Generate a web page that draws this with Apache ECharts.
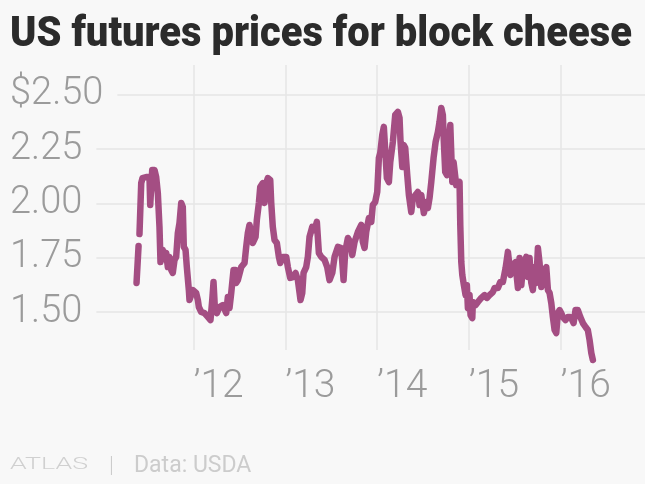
<!DOCTYPE html>
<html>
<head>
<meta charset="utf-8">
<script src="https://cdn.jsdelivr.net/npm/echarts@6/dist/echarts.min.js"></script>
<style>
  html, body { margin: 0; padding: 0; background: #f8f8f8; }
  #chart { width: 645px; height: 484px; }
</style>
</head>
<body>
<div id="chart"></div>
<script>
// ---- data ----
const titleText = 'US futures prices for block cheese';
const sourceText = 'Data: USDA';
const brandText = 'ATLAS';

// time as decimal year
const yearFrac = [
  2011.379, 2011.401, 2011.406, 2011.411, 2011.430, 2011.444, 2011.484, 2011.520, 2011.528, 2011.550,
  2011.575, 2011.593, 2011.611, 2011.629, 2011.640, 2011.665, 2011.684, 2011.702, 2011.720, 2011.738,
  2011.757, 2011.774, 2011.793, 2011.811, 2011.829, 2011.847, 2011.866, 2011.883, 2011.894, 2011.913,
  2011.927, 2011.949, 2011.956, 2011.992, 2012.029, 2012.047, 2012.058, 2012.084, 2012.120, 2012.156,
  2012.185, 2012.204, 2012.218, 2012.232, 2012.254, 2012.283, 2012.319, 2012.356, 2012.374, 2012.392,
  2012.411, 2012.436, 2012.458, 2012.465, 2012.483, 2012.520, 2012.556, 2012.574, 2012.592, 2012.610,
  2012.629, 2012.646, 2012.676, 2012.690, 2012.712, 2012.727, 2012.755, 2012.774, 2012.792, 2012.810,
  2012.836, 2012.847, 2012.864, 2012.883, 2012.908, 2012.930, 2012.945, 2012.973, 2013.010, 2013.028,
  2013.054, 2013.082, 2013.112, 2013.137, 2013.166, 2013.185, 2013.199, 2013.228, 2013.246, 2013.264,
  2013.294, 2013.319, 2013.344, 2013.366, 2013.392, 2013.428, 2013.457, 2013.482, 2013.512, 2013.537,
  2013.573, 2013.610, 2013.635, 2013.653, 2013.682, 2013.708, 2013.730, 2013.755, 2013.791, 2013.828,
  2013.845, 2013.864, 2013.882, 2013.911, 2013.937, 2013.954, 2013.980, 2014.002, 2014.020, 2014.035,
  2014.057, 2014.074, 2014.093, 2014.107, 2014.129, 2014.144, 2014.172, 2014.198, 2014.227, 2014.245,
  2014.256, 2014.275, 2014.289, 2014.307, 2014.329, 2014.347, 2014.373, 2014.390, 2014.420, 2014.445,
  2014.463, 2014.482, 2014.510, 2014.536, 2014.554, 2014.572, 2014.591, 2014.616, 2014.638, 2014.663,
  2014.681, 2014.700, 2014.717, 2014.728, 2014.743, 2014.761, 2014.779, 2014.798, 2014.809, 2014.820,
  2014.834, 2014.852, 2014.863, 2014.881, 2014.899, 2014.907, 2014.918, 2014.929, 2014.946, 2014.965,
  2014.979, 2014.990, 2015.008, 2015.019, 2015.038, 2015.044, 2015.074, 2015.099, 2015.136, 2015.172,
  2015.197, 2015.226, 2015.262, 2015.281, 2015.317, 2015.343, 2015.371, 2015.401, 2015.426, 2015.444,
  2015.455, 2015.480, 2015.510, 2015.524, 2015.535, 2015.553, 2015.572, 2015.589, 2015.608, 2015.626,
  2015.644, 2015.662, 2015.681, 2015.698, 2015.717, 2015.735, 2015.753, 2015.771, 2015.790, 2015.807,
  2015.826, 2015.844, 2015.862, 2015.880, 2015.899, 2015.916, 2015.935, 2015.953, 2015.970, 2015.989,
  2016.007, 2016.025, 2016.054, 2016.080, 2016.106, 2016.127, 2016.142, 2016.163, 2016.188, 2016.215,
  2016.243, 2016.272, 2016.297, 2016.316, 2016.335, 2016.352
];

// price, US$ per pound (null = gap in the line)
const price = [
  1.634, 1.804, null, 1.859, 2.094, 2.117, 2.122, 2.122, 1.993, 2.154,
  2.154, 2.122, 2.048, 1.892, 1.730, 1.786, 1.754, 1.772, 1.707, 1.754,
  1.694, 1.680, 1.740, 1.754, 1.864, 1.910, 2.002, 1.984, 1.800, 1.786,
  1.707, 1.601, 1.555, 1.601, 1.588, 1.555, 1.523, 1.500, 1.495, 1.477,
  1.463, 1.555, 1.638, 1.523, 1.495, 1.523, 1.532, 1.495, 1.569, 1.518,
  1.588, 1.694, 1.694, 1.634, 1.647, 1.707, 1.726, 1.800, 1.864, 1.901,
  1.864, 1.818, 1.846, 1.924, 2.002, 2.076, 2.094, 2.002, 2.094, 2.117,
  2.108, 2.002, 1.892, 1.832, 1.818, 1.754, 1.726, 1.754, 1.754, 1.707,
  1.657, 1.661, 1.680, 1.647, 1.555, 1.588, 1.680, 1.707, 1.754, 1.846,
  1.892, 1.878, 1.915, 1.772, 1.754, 1.740, 1.707, 1.647, 1.680, 1.754,
  1.800, 1.795, 1.647, 1.777, 1.841, 1.823, 1.763, 1.823, 1.869, 1.901,
  1.823, 1.795, 1.869, 1.933, 1.915, 1.993, 2.007, 2.053, 2.210, 2.233,
  2.316, 2.353, 2.348, 2.117, 2.099, 2.191, 2.283, 2.408, 2.422, 2.394,
  2.283, 2.168, 2.270, 2.256, 2.131, 2.039, 1.961, 2.025, 2.039, 2.053,
  1.993, 2.039, 1.956, 2.007, 1.979, 2.025, 2.099, 2.210, 2.283, 2.329,
  2.376, 2.440, 2.408, 2.283, 2.145, 2.131, 2.270, 2.362, 2.362, 2.099,
  2.191, 2.191, 2.085, 2.094, 2.099, 1.901, 1.730, 1.671, 1.624, 1.578,
  1.624, 1.518, 1.578, 1.486, 1.472, 1.546, 1.532, 1.546, 1.565, 1.578,
  1.565, 1.578, 1.592, 1.611, 1.611, 1.638, 1.638, 1.703, 1.777, 1.777,
  1.671, 1.717, 1.730, 1.657, 1.611, 1.749, 1.624, 1.703, 1.730, 1.754,
  1.661, 1.749, 1.634, 1.601, 1.707, 1.634, 1.795, 1.726, 1.615, 1.615,
  1.694, 1.707, 1.601, 1.588, 1.541, 1.477, 1.417, 1.403, 1.495, 1.509,
  1.495, 1.477, 1.463, 1.477, 1.477, 1.463, 1.449, 1.509, 1.509, 1.477,
  1.449, 1.431, 1.417, 1.371, 1.311, 1.279
];

// tick labels
const xTicks = [2012, 2013, 2014, 2015, 2016];
const xTickLabels = ['’12', '’13', '’14', '’15', '’16'];
const yTicks = [1.5, 1.75, 2.0, 2.25, 2.5];
const yTickLabels = ['1.50', '1.75', '2.00', '2.25', '$2.50'];

// ---- chart ----
const seriesData = yearFrac.map((t, i) => [t, price[i] === null ? '-' : price[i]]);

const BG = '#f8f8f8';
const GRID = '#e6e6e6';
const LABEL = '#9b9b9b';
const LINE = '#a44e83';

const chart = echarts.init(document.getElementById('chart'), null, { renderer: 'canvas' });

function fitScale(text, font, targetW) {
  const c = document.createElement('canvas').getContext('2d');
  c.font = font;
  return targetW / c.measureText(text).width;
}
const titleFont = '900 42px Roboto';
const titleScale = fitScale(titleText, titleFont, 622);
const brandFont = '300 17px Roboto';
const brandScale = fitScale(brandText, brandFont, 78);

const yLabelFmt = v => {
  const i = yTicks.findIndex(t => Math.abs(t - v) < 1e-6);
  return i >= 0 ? yTickLabels[i] : '';
};
const xLabelFmt = v => {
  const i = xTicks.findIndex(t => Math.abs(t - v) < 1e-6);
  return i >= 0 ? xTickLabels[i] : '';
};

chart.setOption({
  backgroundColor: BG,
  animation: false,
  grid: { left: 10, right: 0, top: 65, bottom: 134 },
  xAxis: {
    type: 'value',
    min: 2010,
    max: 2016.92,
    axisLine: { show: false },
    axisTick: { show: false, customValues: xTicks },
    axisLabel: {
      customValues: xTicks,
      formatter: xLabelFmt,
      align: 'left',
      margin: 18,
      color: LABEL,
      fontFamily: 'Roboto',
      fontWeight: 300,
      fontSize: 39
    },
    splitLine: { show: true, lineStyle: { color: GRID, width: 1.5 } }
  },
  yAxis: [
    {
      type: 'value',
      min: 1.325,
      max: 2.638,
      axisLine: { show: false },
      axisTick: { show: false, customValues: yTicks },
      axisLabel: { show: false, customValues: yTicks },
      splitLine: { show: true, lineStyle: { color: GRID, width: 1.5 } }
    },
    {
      type: 'value',
      min: 1.325,
      max: 2.638,
      position: 'left',
      z: 10,
      axisLine: { show: false },
      axisTick: { show: false, customValues: yTicks },
      axisLabel: {
        customValues: yTicks,
        inside: true,
        margin: 0,
        formatter: yLabelFmt,
        color: LABEL,
        fontFamily: 'Roboto',
        fontWeight: 300,
        fontSize: 38,
        backgroundColor: BG,
        padding: [0, 14, 0, 0]
      },
      splitLine: { show: false }
    }
  ],
  series: [{
    type: 'line',
    data: seriesData,
    yAxisIndex: 0,
    showSymbol: false,
    symbol: 'none',
    connectNulls: false,
    clip: false,
    lineStyle: { color: LINE, width: 6.5, cap: 'round', join: 'round' },
    z: 3
  }],
  graphic: [
    {
      type: 'text', x: 10, y: 14, scaleX: titleScale,
      style: { text: titleText, font: titleFont, fill: '#2b2b2b', verticalAlign: 'top' }
    },
    {
      type: 'text', x: 10, y: 465, scaleX: brandScale,
      style: { text: brandText, font: brandFont, fill: '#d0d0d0', verticalAlign: 'middle' }
    },
    {
      type: 'text', x: 109, y: 466,
      style: { text: '|', font: '300 22px Roboto', fill: '#cccccc', verticalAlign: 'middle' }
    },
    {
      type: 'text', x: 134, y: 466,
      style: { text: sourceText, font: '400 23px Roboto', fill: '#cccccc', verticalAlign: 'middle' }
    }
  ]
});
</script>
</body>
</html>
